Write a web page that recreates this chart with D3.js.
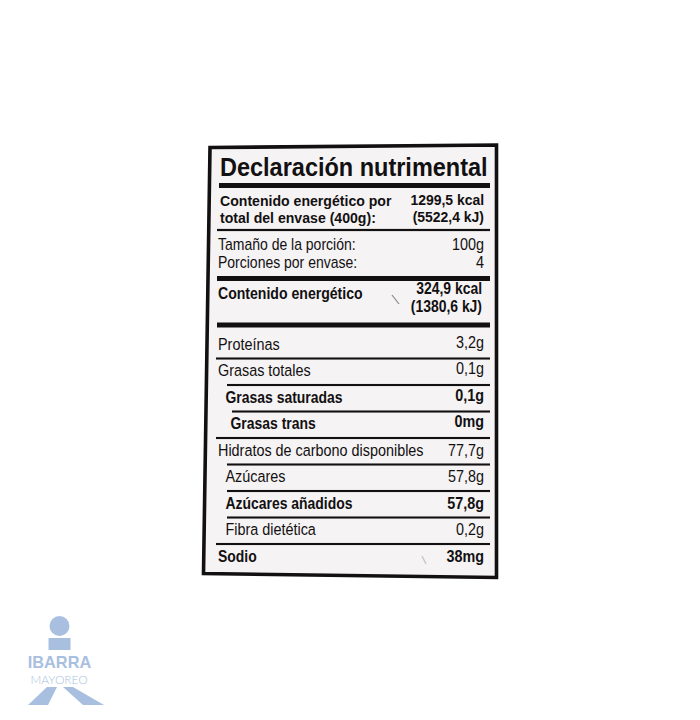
<!DOCTYPE html>
<html>
<head>
<meta charset="utf-8">
<script src="https://cdn.jsdelivr.net/npm/d3@7"></script>
<style>
  html, body { margin: 0; padding: 0; background: #ffffff; }
  svg { display: block; }
  text { font-family: "Liberation Sans", Arial, Helvetica, sans-serif; fill: #121011; }
</style>
</head>
<body>
<svg id="chart" width="700" height="720"></svg>
<script>
// ---------- data ----------
const title = "Declaración nutrimental";
const totalEnergyLabel = ["Contenido energético por", "total del envase (400g):"];
const totalEnergyValue = ["1299,5 kcal", "(5522,4 kJ)"];
const servingLabels = ["Tamaño de la porción:", "Porciones por envase:"];
const servingValues = ["100g", "4"];
const energyLabel = "Contenido energético";
const energyValues = ["324,9 kcal", "(1380,6 kJ)"];
const nutrients = ["Proteínas", "Grasas totales", "Grasas saturadas", "Grasas trans",
  "Hidratos de carbono disponibles", "Azúcares", "Azúcares añadidos", "Fibra dietética", "Sodio"];
const amounts = ["3,2g", "0,1g", "0,1g", "0mg", "77,7g", "57,8g", "57,8g", "0,2g", "38mg"];
const nutrientLevel = [0, 0, 1, 2, 0, 1, 1, 1, 0];
const nutrientBold = [false, false, true, true, false, false, true, false, true];
const logoWords = ["IBARRA", "MAYOREO"];

// ---------- drawing ----------
const svg = d3.select("#chart");
const ink = "#121011";
const logoBlue = "#a9bfe0";

const right = 484, ruleL = 217, ruleR = 490;

function txt(g, s, x, y, size, bold, anchor, sx) {
  return g.append("text")
    .attr("transform", `translate(${x},${y}) scale(${sx},1)`)
    .attr("text-anchor", anchor)
    .attr("font-size", size)
    .attr("font-weight", bold ? "bold" : "normal")
    .text(s);
}
function block(g, lines, x, y, lineH, size, bold, anchor, sx) {
  lines.forEach((s, i) => txt(g, s, x, y + i * lineH, size, bold, anchor, sx));
}
function rule(g, y, h, x0) {
  const a = x0 === undefined ? ruleL : x0;
  g.append("rect").attr("x", a).attr("y", y - h / 2)
    .attr("width", ruleR - a).attr("height", h).attr("fill", ink);
}

// label panel (slightly skewed photo outline)
const corners = [[210, 147.5], [496.5, 145], [496.5, 577.5], [203.5, 573.5]];
svg.append("polygon")
  .attr("points", corners.map(d => d.join(",")).join(" "))
  .attr("fill", "#f6f3f4").attr("stroke", ink).attr("stroke-width", 3.6)
  .attr("stroke-linejoin", "miter");

const g = svg.append("g");

// title
txt(g, title, 220, 176, 25, true, "start", 0.94);
rule(g, 185.5, 5, 219);

// total energy
block(g, totalEnergyLabel, 220, 206, 17, 15, true, "start", 0.94);
block(g, totalEnergyValue, right, 205, 17, 15, true, "end", 0.93);
rule(g, 230, 2.2);

// serving info
block(g, servingLabels, 218, 250, 18, 16, false, "start", 0.875);
block(g, servingValues, right, 250, 18, 16, false, "end", 0.9);
rule(g, 278.5, 5);

// energy per portion
txt(g, energyLabel, 218, 299, 16, true, "start", 0.88);
block(g, energyValues, right - 2, 294, 18, 16, true, "end", 0.87);
rule(g, 325, 5);

// nutrient rows
const yRow = d3.scaleLinear().domain([0, nutrients.length - 1]).range([349.5, 561.5]);
const indent = d3.scaleOrdinal().domain([0, 1, 2]).range([218, 225.5, 230.5]);
const pitch = yRow(1) - yRow(0);

nutrients.forEach((name, i) => {
  const b = nutrientBold[i];
  txt(g, name, indent(nutrientLevel[i]), yRow(i), 16.5, b, "start", b ? 0.845 : 0.873);
  txt(g, amounts[i], right, yRow(i) - (i < 4 ? 2 : 0), 16.5, b, "end", 0.87);
  if (i < nutrients.length - 1) {
    const nextLevel = nutrientLevel[i + 1];
    const x0 = nextLevel === 0 ? 216 : indent(nextLevel) + 1.5;
    rule(g, yRow(i) + pitch * 0.34, 2.1, x0);
  }
});

// faint scratches on the photographed label
g.append("line").attr("x1", 392).attr("y1", 295).attr("x2", 399).attr("y2", 304)
  .attr("stroke", "#8a8687").attr("stroke-width", 1.2);
g.append("line").attr("x1", 422).attr("y1", 556).attr("x2", 426).attr("y2", 564)
  .attr("stroke", "#c9c5c6").attr("stroke-width", 1.4);

// ---------- logo ----------
const logo = svg.append("g");
logo.append("circle").attr("cx", 59.5).attr("cy", 626).attr("r", 10).attr("fill", logoBlue);
logo.append("rect").attr("x", 48.5).attr("y", 638).attr("width", 22).attr("height", 12).attr("fill", logoBlue);
logo.append("text").attr("transform", "translate(59.5,667.5) scale(0.96,1)")
  .attr("text-anchor", "middle").attr("font-size", 17).attr("font-weight", "bold")
  .style("fill", logoBlue).text(logoWords[0]);
logo.append("text").attr("transform", "translate(59,684) scale(0.95,1)")
  .attr("text-anchor", "middle").attr("font-size", 12.5)
  .style("fill", logoBlue).style("font-family", "Lato, 'Liberation Sans', sans-serif").style("font-weight", 300)
  .text(logoWords[1]);
logo.append("polygon").attr("points", "47,687 57,687 48,705 28,705").attr("fill", logoBlue);
logo.append("polygon").attr("points", "63,687 73,687 104,705 83,705").attr("fill", logoBlue);
</script>
</body>
</html>
